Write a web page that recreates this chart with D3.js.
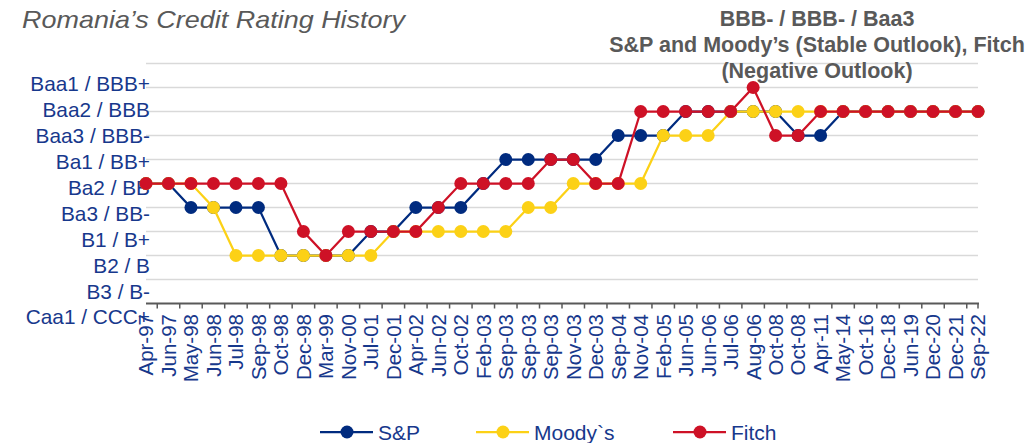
<!DOCTYPE html>
<html>
<head>
<meta charset="utf-8">
<script src="https://cdn.jsdelivr.net/npm/d3@7"></script>
<style>
  body { margin: 0; background: #fff; }
  svg { display: block; font-family: Arial, "Liberation Sans", sans-serif; }
</style>
</head>
<body>
<svg id="chart" width="1031" height="443"></svg>
<script>
// dates of the rating actions (x categories, duplicates are real)
const dates = ['Apr-97', 'Jun-97', 'May-98', 'Jun-98', 'Jul-98', 'Sep-98', 'Oct-98', 'Dec-98', 'Mar-99', 'Nov-00',
  'Jul-01', 'Dec-01', 'Apr-02', 'Jun-02', 'Oct-02', 'Feb-03', 'Sep-03', 'Sep-03', 'Sep-03', 'Nov-03',
  'Dec-03', 'Sep-04', 'Nov-04', 'Feb-05', 'Jun-05', 'Jun-06', 'Jul-06', 'Aug-06', 'Oct-08', 'Oct-08',
  'Apr-11', 'May-14', 'Oct-16', 'Dec-18', 'Jun-19', 'Dec-20', 'Dec-21', 'Sep-22'];

// rating scale, lowest first (index = notch)
const ratings = ['Caa1 / CCC+', 'B3 / B-', 'B2 / B', 'B1 / B+', 'Ba3 / BB-', 'Ba2 / BB',
  'Ba1 / BB+', 'Baa3 / BBB-', 'Baa2 / BBB', 'Baa1 / BBB+'];

// notch index per date
const sp     = [5, 5, 4, 4, 4, 4, 2, 2, 2, 2, 3, 3, 4, 4, 4, 5, 6, 6, 6, 6, 6, 7, 7, 7, 8, 8, 8, 8, 8, 7, 7, 8, 8, 8, 8, 8, 8, 8];
const moodys = [5, 5, 5, 4, 2, 2, 2, 2, 2, 2, 2, 3, 3, 3, 3, 3, 3, 4, 4, 5, 5, 5, 5, 7, 7, 7, 8, 8, 8, 8, 8, 8, 8, 8, 8, 8, 8, 8];
const fitch  = [5, 5, 5, 5, 5, 5, 5, 3, 2, 3, 3, 3, 3, 4, 5, 5, 5, 5, 6, 6, 5, 5, 8, 8, 8, 8, 8, 9, 7, 7, 8, 8, 8, 8, 8, 8, 8, 8];

const seriesNames = ['S&P', 'Moody`s', 'Fitch'];
const seriesColors = ['#002b7f', '#fcd116', '#ce1126'];

const svg = d3.select('#chart');
const textBlue = '#17388c';
const grey = '#595959';

const x = d3.scalePoint().domain(d3.range(dates.length)).range([146, 978]);
const y = d3.scaleLinear().domain([0, 10]).range([303.5, 63.5]);
// the category labels sit a bit looser than the gridlines in the original
const yLabel = d3.scalePoint().domain(ratings).range([317, 84]);

/**
 * title + note
 */
svg.append('text')
  .attr('x', 22).attr('y', 28)
  .attr('font-size', 24).attr('font-style', 'italic')
  .attr('textLength', 383).attr('lengthAdjust', 'spacingAndGlyphs')
  .attr('fill', grey)
  .text('Romania’s Credit Rating History');

const note = ['BBB- / BBB- / Baa3', 'S&P and Moody’s (Stable Outlook), Fitch', '(Negative Outlook)'];

/**
 * grid
 */
svg.append('g').selectAll('line')
  .data(d3.range(1, 11))
  .enter().append('line')
  .attr('x1', 146).attr('x2', 978)
  .attr('y1', d => y(d)).attr('y2', d => y(d))
  .attr('stroke', '#d9d9d9').attr('stroke-width', 1.5);

svg.append('g').selectAll('text')
  .data(note)
  .enter().append('text')
  .attr('x', 817).attr('y', (d, i) => 26 + i * 26)
  .attr('text-anchor', 'middle')
  .attr('font-size', 21.5).attr('font-weight', 'bold')
  .attr('fill', grey)
  .text(d => d);

// y labels
svg.append('g').selectAll('text')
  .data(ratings)
  .enter().append('text')
  .attr('x', 150)
  .attr('y', d => yLabel(d))
  .attr('dy', '0.36em')
  .attr('text-anchor', 'end')
  .attr('font-size', 20.8)
  .attr('fill', textBlue)
  .text(d => d);

/**
 * x axis
 */
const step = x.step();
const tickXs = d3.range(dates.length - 1).map(i => x(i) + step / 2).concat([x(dates.length - 1)]);
const axisG = svg.append('g');
axisG.append('line')
  .attr('x1', 146).attr('x2', 979)
  .attr('y1', y(0)).attr('y2', y(0))
  .attr('stroke', grey).attr('stroke-width', 2);
axisG.selectAll('.tick')
  .data(tickXs)
  .enter().append('line')
  .attr('class', 'tick')
  .attr('x1', d => d).attr('x2', d => d)
  .attr('y1', y(0)).attr('y2', y(0) + 5)
  .attr('stroke', grey).attr('stroke-width', 1.5);

axisG.selectAll('.lbl')
  .data(dates)
  .enter().append('text')
  .attr('class', 'lbl')
  .attr('transform', (d, i) => `translate(${x(i)},314) rotate(-90)`)
  .attr('dy', '0.36em')
  .attr('text-anchor', 'end')
  .attr('font-size', 20.5)
  .attr('fill', textBlue)
  .text(d => d);

/**
 * series
 */
const line = d3.line()
  .x((d, i) => x(i))
  .y(d => y(d));

[sp, moodys, fitch].forEach((values, k) => {
  const g = svg.append('g');
  g.append('path')
    .attr('d', line(values))
    .attr('fill', 'none')
    .attr('stroke', seriesColors[k])
    .attr('stroke-width', 2.25);
  g.selectAll('circle')
    .data(values)
    .enter().append('circle')
    .attr('cx', (d, i) => x(i))
    .attr('cy', d => y(d))
    .attr('r', 6.5)
    .attr('fill', seriesColors[k]);
});

/**
 * legend
 */
const legendX = [320, 476, 673];
const legend = svg.append('g').selectAll('g')
  .data(seriesNames)
  .enter().append('g')
  .attr('transform', (d, i) => `translate(${legendX[i]},432)`);
legend.append('line')
  .attr('x1', 0).attr('x2', 53)
  .attr('stroke', (d, i) => seriesColors[i]).attr('stroke-width', 2.25);
legend.append('circle')
  .attr('cx', 27).attr('r', 6.5)
  .attr('fill', (d, i) => seriesColors[i]);
legend.append('text')
  .attr('x', 58).attr('dy', '0.36em')
  .attr('font-size', 21)
  .attr('fill', textBlue)
  .text(d => d);
</script>
</body>
</html>
